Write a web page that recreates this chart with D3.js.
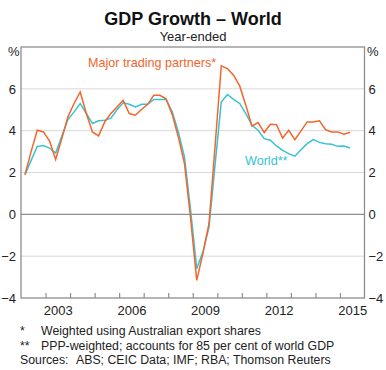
<!DOCTYPE html>
<html>
<head>
<meta charset="utf-8">
<script src="https://cdn.jsdelivr.net/npm/d3@7"></script>
<style>
  body { margin: 0; background: #fff; }
  svg { font-family: "Liberation Sans", Arial, sans-serif; }
  .tick text { fill: #222; font-size: 13px; }
</style>
</head>
<body>
<svg width="386" height="370"></svg>
<script>
// quarterly year-ended growth, 2002 Q1 .. 2015 Q2
const firstYear = 2002;
const partners = [1.9, 3.0, 4.02, 3.94, 3.51, 2.62, 3.62, 4.66, 5.30, 5.85, 4.82, 3.94,
  3.75, 4.42, 4.82, 5.13, 5.45, 4.82, 4.74, 5.01, 5.26, 5.69, 5.69, 5.52,
  4.78, 3.70, 2.43, -0.2, -3.16, -1.88, -0.45, 3.3, 7.1, 6.97, 6.65, 6.14,
  5.22, 4.22, 4.39, 3.91, 4.31, 4.29, 3.65, 4.02, 3.57, 3.99, 4.42, 4.42,
  4.47, 4.05, 3.94, 3.94, 3.83, 3.92];
const world = [1.9, 2.58, 3.25, 3.29, 3.17, 2.93, 3.73, 4.53, 4.90, 5.30, 4.82, 4.34,
  4.47, 4.50, 4.60, 5.0, 5.33, 5.26, 5.13, 5.26, 5.26, 5.49, 5.49, 5.49,
  4.90, 3.94, 2.74, 0.2, -2.6, -1.80, -0.61, 2.4, 5.37, 5.73, 5.50, 5.30,
  4.82, 4.26, 4.02, 3.62, 3.54, 3.27, 3.06, 2.90, 2.78, 3.09, 3.38, 3.57,
  3.44, 3.38, 3.35, 3.25, 3.27, 3.17];
const yTicks = [-4, -2, 0, 2, 4, 6];
const gridValues = [-2, 2, 4, 6];
const yearTicks = [2003, 2004, 2005, 2006, 2007, 2008, 2009, 2010, 2011, 2012, 2013, 2014, 2015];
const yearLabels = [2003, 2006, 2009, 2012, 2015];
const notes = [
  ['*', 'Weighted using Australian export shares'],
  ['**', 'PPP-weighted; accounts for 85 per cent of world GDP'],
  ['Sources:', 'ABS; CEIC Data; IMF; RBA; Thomson Reuters']
];

const orange = '#f3652b', cyan = '#35c3d3', axisGrey = '#8e8e8e';

const svg = d3.select('svg');
const pLeft = 21, pRight = 364.5, pTop = 47, pBottom = 298;

const x = d3.scaleLinear().domain([2002, 2016]).range([pLeft, pRight]);
const y = d3.scaleLinear().domain([-4, 8]).range([pBottom, pTop]);
const tq = i => firstYear + (i + 0.65) / 4; // plot each quarter near its middle

// titles
svg.append('text').attr('x', 193).attr('y', 25).attr('text-anchor', 'middle')
  .style('font-size', '18px').style('font-weight', 'bold').style('fill', '#111')
  .text('GDP Growth – World');
svg.append('text').attr('x', 193).attr('y', 41).attr('text-anchor', 'middle')
  .style('font-size', '13px').style('fill', '#222').text('Year-ended');

// gridlines
svg.append('g').selectAll('line').data(gridValues).enter().append('line')
  .attr('x1', pLeft).attr('x2', pRight)
  .attr('y1', d => y(d)).attr('y2', d => y(d))
  .attr('stroke', '#d8d8d8').attr('stroke-width', 1);

svg.append('line').attr('x1', pLeft).attr('x2', pRight)
  .attr('y1', y(0)).attr('y2', y(0))
  .attr('stroke', axisGrey).attr('stroke-width', 1.2);

// y axes, both sides
const yl = svg.append('g').attr('transform', `translate(${pLeft},0)`)
  .call(d3.axisLeft(y).tickValues(yTicks).tickSize(0).tickPadding(5));
const yr = svg.append('g').attr('transform', `translate(${pRight},0)`)
  .call(d3.axisRight(y).tickValues(yTicks).tickSize(0).tickPadding(4));
[yl, yr].forEach(g => g.select('.domain').remove());

svg.append('text').attr('x', 8).attr('y', 56).style('font-size', '13px').style('fill', '#222').text('%');
svg.append('text').attr('x', 367).attr('y', 56).style('font-size', '13px').style('fill', '#222').text('%');

// x axis: year ticks pointing inward, labels centred on the year
const xt = svg.append('g').attr('transform', `translate(0,${pBottom})`)
  .call(d3.axisBottom(x).tickValues(yearTicks).tickSize(-5).tickFormat(''));
xt.select('.domain').remove();
xt.selectAll('.tick line').attr('stroke', axisGrey).attr('stroke-width', 1.2);

const xl = svg.append('g').attr('transform', `translate(0,${pBottom})`)
  .call(d3.axisBottom(x).tickValues(yearLabels.map(d => d + 0.5)).tickSize(0).tickPadding(8)
    .tickFormat(d => Math.floor(d)));
xl.select('.domain').remove();

// frame
svg.append('rect').attr('x', pLeft).attr('y', pTop)
  .attr('width', pRight - pLeft).attr('height', pBottom - pTop)
  .attr('fill', 'none').attr('stroke', axisGrey).attr('stroke-width', 1.3);

// lines
const line = d3.line().x((d, i) => x(tq(i))).y(d => y(d));
svg.append('path').datum(world).attr('d', line)
  .attr('fill', 'none').attr('stroke', cyan).attr('stroke-width', 1.5);
svg.append('path').datum(partners).attr('d', line)
  .attr('fill', 'none').attr('stroke', orange).attr('stroke-width', 1.5);

// series labels
svg.append('text').attr('x', 88).attr('y', 67).style('font-size', '12.6px')
  .style('fill', orange).text('Major trading partners*');
svg.append('text').attr('x', 245).attr('y', 165).style('font-size', '12.6px')
  .style('fill', cyan).text('World**');

// footnotes
const fn = svg.append('g').selectAll('g').data(notes).enter().append('g')
  .attr('transform', (d, i) => `translate(0,${335 + i * 14.5})`)
  .style('font-size', '12.3px').style('fill', '#222');
fn.append('text').attr('x', 20).text(d => d[0]);
fn.append('text').attr('x', (d, i) => i === 2 ? 76 : 41).text(d => d[1]);
</script>
</body>
</html>
